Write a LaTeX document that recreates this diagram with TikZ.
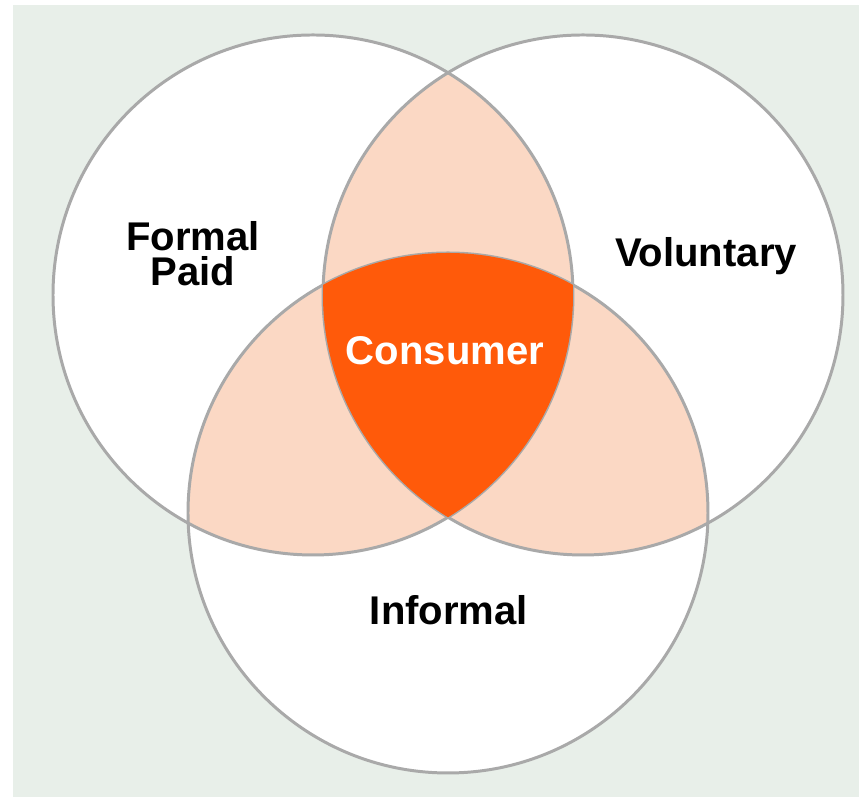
\documentclass[tikz,border=0pt]{standalone}
\usepackage{fontspec}
\setmainfont{Liberation Sans}
\definecolor{bggreen}{HTML}{E8EFE9}
\definecolor{lightpeach}{HTML}{FBD8C4}
\definecolor{deeporange}{HTML}{FF5A0A}
\definecolor{ringgray}{HTML}{A9A9A9}

\begin{document}
\begin{tikzpicture}
[ring/.style={draw=ringgray,line width=0.85pt},
 every node/.style={font=\fontsize{11.4}{10}\selectfont\bfseries,inner sep=0pt,align=center}]
  \useasboundingbox[fill=white] (0,0) rectangle (8.59,7.97);
  \fill[bggreen] (0.13,0) rectangle (8.59,7.92);

  \coordinate (formal) at (3.13,5.02);
  \coordinate (voluntary) at (5.83,5.02);
  \coordinate (informal) at (4.48,2.84);
  \def\rad{2.6}

  \foreach \c in {formal,voluntary,informal}
    \fill[white] (\c) circle (\rad);

  \foreach \a/\b in {formal/voluntary,formal/informal,voluntary/informal}
  {
    \begin{scope}
      \clip (\a) circle (\rad);
      \fill[lightpeach] (\b) circle (\rad);
    \end{scope}
  }

  \foreach \c in {formal,voluntary,informal}
    \draw[ring] (\c) circle (\rad);

  \begin{scope}
    \clip (formal) circle (\rad);
    \clip (voluntary) circle (\rad);
    \fill[deeporange] (informal) circle (\rad);
  \end{scope}

  \node (nformal) at (1.93,5.43) {Formal\\Paid};
  \node[anchor=base] (nvoluntary) at (7.06,5.30) {Voluntary};
  \node[anchor=base,text=white] (nconsumer) at (4.45,4.32) {Consumer};
  \node[anchor=base] (ninformal) at (4.49,1.72) {Informal};

\end{tikzpicture}
\end{document}
